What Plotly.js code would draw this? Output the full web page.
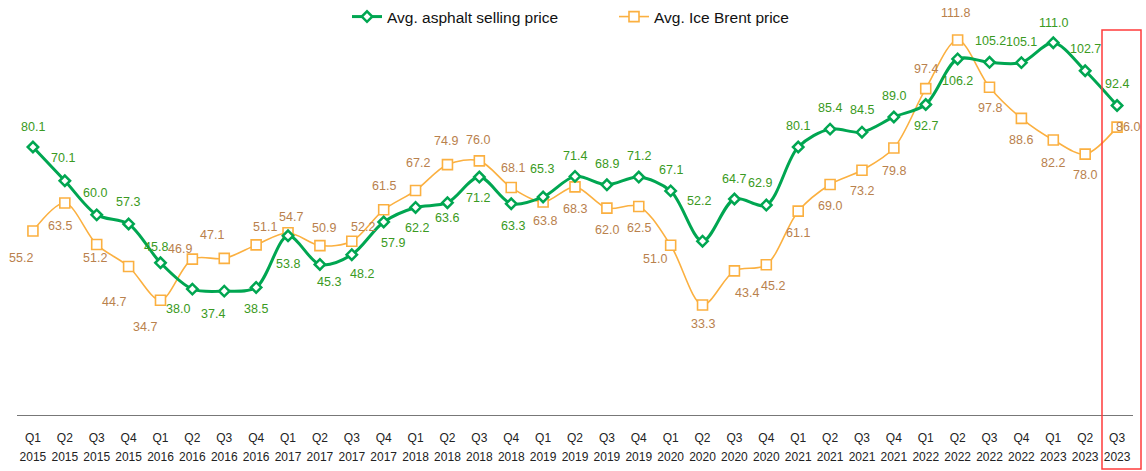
<!DOCTYPE html>
<html>
<head>
<meta charset="utf-8">
<script src="https://cdn.plot.ly/plotly-3.0.1.min.js"></script>
<style>html,body{margin:0;padding:0;background:#fff;}#chart{width:1146px;height:471px;}</style>
</head>
<body>
<div id="chart"></div>
<script>
// ---- data ----
var quarterLabels = ["Q1","Q2","Q3","Q4","Q1","Q2","Q3","Q4","Q1","Q2","Q3","Q4","Q1","Q2","Q3","Q4","Q1","Q2","Q3","Q4","Q1","Q2","Q3","Q4","Q1","Q2","Q3","Q4","Q1","Q2","Q3","Q4","Q1","Q2","Q3"];
var yearLabels = ["2015","2015","2015","2015","2016","2016","2016","2016","2017","2017","2017","2017","2018","2018","2018","2018","2019","2019","2019","2019","2020","2020","2020","2020","2021","2021","2021","2021","2022","2022","2022","2022","2023","2023","2023"];
var asphaltPrice = [80.1,70.1,60.0,57.3,45.8,38.0,37.4,38.5,53.8,45.3,48.2,57.9,62.2,63.6,71.2,63.3,65.3,71.4,68.9,71.2,67.1,52.2,64.7,62.9,80.1,85.4,84.5,89.0,92.7,106.2,105.2,105.1,111.0,102.7,92.4];
var brentPrice = [55.2,63.5,51.2,44.7,34.7,46.9,47.1,51.1,54.7,50.9,52.2,61.5,67.2,74.9,76.0,68.1,63.8,68.3,62.0,62.5,51.0,33.3,43.4,45.2,61.1,69.0,73.2,79.8,97.4,111.8,97.8,88.6,82.2,78.0,86.0];
var seriesNames = ["Avg. asphalt selling price","Avg. Ice Brent price"];

// ---- label placement (pixel offsets: dx right, dy down) ----
var asphaltLabelOffset = [[0,-20],[-2,-23],[-2,-22],[-1,-22],[-4,-16],[-14,20],[-11,23],[0,22],[0,28],[9,18],[10,19],[9,21],[1,21],[0,15],[-1,21],[2,22],[-1,-28],[0,-20],[0,-21],[0,-21],[0,-21],[-4,-40],[0,-20],[-6,-22],[0,-21],[0,-21],[0,-22],[0,-21],[0,21],[0,22],[1,-21],[0,-21],[0,-20],[0,-22],[0,-22]];
var brentLabelOffset = [[-12,27],[-5,23],[-2,13],[-15,35],[-15,27],[-12,-10],[-12,-23],[9,-18],[3,-16],[4,-18],[11,-14],[0,-24],[2,-28],[-1,-24],[-1,-21],[2,-20],[2,19],[0,22],[0,22],[0,22],[-16,14],[0,19],[13,22],[7,21],[0,22],[0,22],[0,21],[0,23],[0,-20],[-2,-27],[0,21],[0,22],[0,23],[0,21],[11,0]];

var idx = quarterLabels.map(function(_, i){ return i; });

var greenLine = "#00A651", greenText = "#3A9A22";
var orangeLine = "#FBB040", orangeText = "#B9814D";
var fontFam = "Liberation Sans, Arial, Helvetica, sans-serif";

var brentTrace = {
  x: idx, y: brentPrice, name: seriesNames[1], type: "scatter", mode: "lines+markers",
  line: {color: orangeLine, width: 1.6, shape: "spline", smoothing: 0.9},
  marker: {symbol: "square", size: 10, color: "#ffffff", line: {color: orangeLine, width: 1.6}},
  hoverinfo: "skip"
};
var asphaltTrace = {
  x: idx, y: asphaltPrice, name: seriesNames[0], type: "scatter", mode: "lines+markers",
  line: {color: greenLine, width: 3, shape: "spline", smoothing: 0.9},
  marker: {symbol: "diamond", size: 8, color: "#ffffff", line: {color: greenLine, width: 2.5}},
  hoverinfo: "skip"
};
var yearAxisTrace = {
  x: [0, idx.length - 1], y: [-100, -100], xaxis: "x2", yaxis: "y", mode: "markers",
  marker: {opacity: 0}, showlegend: false, hoverinfo: "skip"
};
var traces = [brentTrace, asphaltTrace, yearAxisTrace];

var annotations = [];
asphaltPrice.forEach(function(v, i){
  annotations.push({x: i, y: v, xref: "x", yref: "y", text: v.toFixed(1), showarrow: false,
    xshift: asphaltLabelOffset[i][0], yshift: -asphaltLabelOffset[i][1],
    font: {family: fontFam, size: 12.5, color: greenText}});
});
brentPrice.forEach(function(v, i){
  annotations.push({x: i, y: v, xref: "x", yref: "y", text: v.toFixed(1), showarrow: false,
    xshift: brentLabelOffset[i][0], yshift: -brentLabelOffset[i][1],
    font: {family: fontFam, size: 12.5, color: orangeText}});
});

var plotTop = 0, plotBottom = 415, plotLeft = 17, plotRight = 1133;
var pxPerUnit = 3.375, yMin = 0.7;

var layout = {
  width: 1146, height: 471,
  margin: {l: plotLeft, r: 1146 - plotRight, t: plotTop, b: 471 - plotBottom},
  paper_bgcolor: "#ffffff", plot_bgcolor: "#ffffff",
  font: {family: fontFam, size: 12, color: "#222"},
  showlegend: true,
  legend: {orientation: "h", traceorder: "reversed", x: (347 - plotLeft) / (plotRight - plotLeft), xanchor: "left",
    y: 1.0, yanchor: "top",
    font: {family: fontFam, size: 15.5, color: "#111"}, itemwidth: 30,
    entrywidth: 222, entrywidthmode: "pixels", bgcolor: "rgba(0,0,0,0)"},
  xaxis: {
    range: [-0.5, idx.length - 0.5], tickmode: "array", tickvals: idx, ticktext: quarterLabels,
    showgrid: false, zeroline: false, showline: true, linecolor: "#777", linewidth: 1,
    ticks: "", ticklabelstandoff: 12, tickfont: {family: fontFam, size: 12, color: "#222"}, fixedrange: true
  },
  xaxis2: {
    overlaying: "x", matches: "x", anchor: "y", side: "bottom",
    range: [-0.5, idx.length - 0.5], tickmode: "array", tickvals: idx, ticktext: yearLabels,
    showgrid: false, zeroline: false, showline: false, ticks: "", ticklabelstandoff: 33,
    tickfont: {family: fontFam, size: 12, color: "#222"}, fixedrange: true
  },
  yaxis: {range: [yMin, yMin + (plotBottom - plotTop) / pxPerUnit], visible: false, showgrid: false, zeroline: false, fixedrange: true},
  annotations: annotations,
  shapes: [{
    type: "rect", xref: "paper", yref: "paper",
    x0: (1102 - plotLeft) / (plotRight - plotLeft), x1: (1141 - plotLeft) / (plotRight - plotLeft),
    y0: (plotBottom - 469) / (plotBottom - plotTop), y1: (plotBottom - 30) / (plotBottom - plotTop),
    line: {color: "#FF3B3B", width: 1.5}, fillcolor: "rgba(0,0,0,0)", layer: "above"
  }]
};

Plotly.newPlot("chart", traces, layout, {displayModeBar: false, staticPlot: true});
</script>
</body>
</html>
